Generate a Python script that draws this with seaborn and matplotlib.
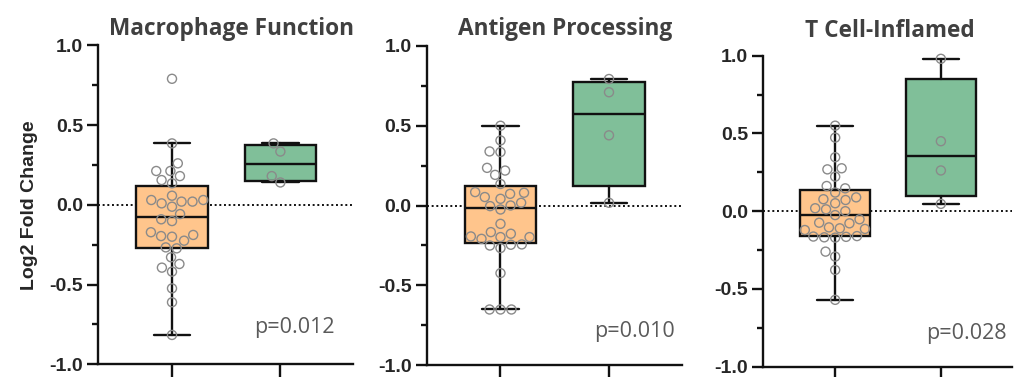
import numpy as np
import pandas as pd
import matplotlib
matplotlib.use("Agg")
import matplotlib.pyplot as plt
from matplotlib.ticker import MultipleLocator
import seaborn as sns

# ---- data -------------------------------------------------------------
groups = ["Cohort A", "Cohort B"]

macrophage_a = [0.79, 0.385, 0.26, 0.212, 0.212, 0.18, 0.155, 0.135,
                0.057, 0.03, 0.03, 0.02, 0.02, 0.009, -0.012, -0.058,
                -0.091, -0.102, -0.172, -0.189, -0.196, -0.2, -0.225,
                -0.267, -0.273, -0.329, -0.371, -0.394, -0.419, -0.524,
                -0.611, -0.816]
macrophage_b = [0.385, 0.334, 0.18, 0.14]

antigen_a = [0.5, 0.408, 0.339, 0.335, 0.236, 0.219, 0.192, 0.135,
             0.084, 0.08, 0.073, 0.053, 0.042, 0.017, 0.0, -0.004,
             -0.025, -0.115, -0.167, -0.177, -0.194, -0.198, -0.198,
             -0.209, -0.244, -0.246, -0.251, -0.267, -0.424, -0.652,
             -0.652, -0.652]
antigen_b = [0.793, 0.71, 0.44, 0.017]

tcell_a = [0.55, 0.473, 0.347, 0.276, 0.269, 0.222, 0.162, 0.147,
           0.12, 0.089, 0.077, 0.072, 0.051, 0.019, 0.012, 0.0,
           -0.025, -0.052, -0.074, -0.078, -0.104, -0.11, -0.114,
           -0.121, -0.16, -0.163, -0.165, -0.168, -0.17, -0.26,
           -0.292, -0.378, -0.57]
tcell_b = [0.98, 0.45, 0.262, 0.047]

titles = ["Macrophage Function", "Antigen Processing", "T Cell-Inflamed"]
p_labels = ["p=0.012", "p=0.010", "p=0.028"]
y_ticks = [-1.0, -0.5, 0.0, 0.5, 1.0]
y_tick_labels = ["-1.0", "-0.5", "0.0", "0.5", "1.0"]
y_label = "Log2 Fold Change"

# ---- style ------------------------------------------------------------
sns.set_style("ticks")
plt.rcParams["font.family"] = ["Liberation Sans", "DejaVu Sans"]
plt.rcParams["axes.unicode_minus"] = False

box_colors = ["#FFC58C", "#80BF99"]
edge = "#111111"
LW = 1.7

W, H = 1018, 377
fig = plt.figure(figsize=(W / 100, H / 100), dpi=100)


def px_rect(left, right, top, bottom):
    return [left / W, 1 - bottom / H, (right - left) / W, (bottom - top) / H]


def box_stats(values):
    v = np.sort(np.asarray(values, dtype=float))
    q1, med, q3 = np.percentile(v, [25, 50, 75], method="weibull")
    iqr = q3 - q1
    lo = v[v >= q1 - 1.5 * iqr].min()
    hi = v[v <= q3 + 1.5 * iqr].max()
    return dict(med=med, q1=q1, q3=q3, whislo=lo, whishi=hi, fliers=[])


panels = [
    (macrophage_a, macrophage_b, px_rect(98.3, 353, 45.3, 364.3),
     (231.5, 35), (335, 333)),
    (antigen_a, antigen_b, px_rect(426.7, 681.7, 46, 365),
     (565, 35), (675, 336.5)),
    (tcell_a, tcell_b, px_rect(763.3, 1011.7, 55.7, 366.7),
     (890, 37.3), (1007, 339)),
]

for i, (vals_a, vals_b, rect, title_xy, p_xy) in enumerate(panels):
    ax = fig.add_axes(rect)

    # dotted reference line at zero
    ax.axhline(0, color="#111111", lw=1.4, ls=(0, (1, 1.4)), zorder=1)

    stats = [box_stats(vals_a), box_stats(vals_b)]
    bp = ax.bxp(stats, positions=[0, 1], widths=0.66, capwidths=0.34,
                patch_artist=True, showfliers=False,
                boxprops=dict(edgecolor=edge, linewidth=LW),
                medianprops=dict(color=edge, linewidth=LW),
                whiskerprops=dict(color=edge, linewidth=LW),
                capprops=dict(color=edge, linewidth=LW),
                zorder=2)
    for patch, c in zip(bp["boxes"], box_colors):
        patch.set_facecolor(c)

    df = pd.DataFrame({
        "group": [groups[0]] * len(vals_a) + [groups[1]] * len(vals_b),
        "value": list(vals_a) + list(vals_b),
    })
    sns.swarmplot(data=df, x="group", y="value", order=groups, ax=ax,
                  size=6.5, zorder=3)
    for coll in ax.collections:
        coll.set_facecolor("none")
        coll.set_edgecolor("#8a8a8a")
        coll.set_linewidth(1.0)
        coll.set_clip_on(False)

    ax.set_xlim(-0.68, 1.67)
    ax.set_ylim(-1.0, 1.0)
    ax.set_xticks([0, 1])
    ax.set_xticklabels(["", ""])
    ax.set_yticks(y_ticks)
    ax.set_yticklabels(y_tick_labels, fontsize=14, fontweight="bold")
    ax.yaxis.set_minor_locator(MultipleLocator(0.25))
    ax.set_xlabel("")
    ax.set_ylabel("")
    sns.despine(ax=ax)
    for s in ("left", "bottom"):
        ax.spines[s].set_linewidth(LW)
        ax.spines[s].set_color(edge)
    ax.tick_params(axis="y", which="major", length=8, width=LW,
                   color=edge, pad=3)
    ax.tick_params(axis="y", which="minor", length=4, width=LW, color=edge)
    ax.tick_params(axis="x", which="major", length=10, width=LW, color=edge)

    fig.text(title_xy[0] / W, 1 - title_xy[1] / H, titles[i],
             ha="center", va="baseline", fontsize=16.3, fontweight="bold",
             color="#404040", family=["Open Sans", "DejaVu Sans"])
    fig.text(p_xy[0] / W, 1 - p_xy[1] / H, p_labels[i],
             ha="right", va="baseline", fontsize=15.5, color="#5a5a5a",
             family=["Open Sans", "DejaVu Sans"])

fig.text(30 / W, 1 - 205 / H, y_label, rotation=90, ha="center",
         va="center", fontsize=14, fontweight="bold")

fig.savefig("out.png", dpi=100)
